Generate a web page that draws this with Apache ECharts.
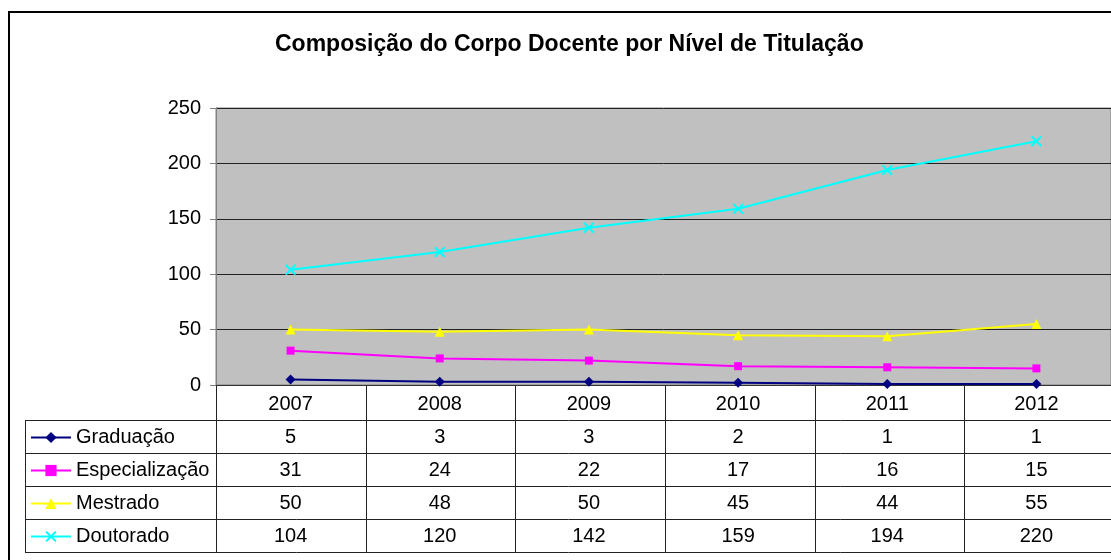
<!DOCTYPE html>
<html>
<head>
<meta charset="utf-8">
<script src="https://cdn.jsdelivr.net/npm/echarts@6/dist/echarts.min.js"></script>
<style>
  html, body { margin: 0; padding: 0; background: #fff; }
  #chart { width: 1111px; height: 560px; }
</style>
</head>
<body>
<div id="chart"></div>
<script>
// dados da tabela
const years = ['2007', '2008', '2009', '2010', '2011', '2012'];
const seriesNames = ['Graduação', 'Especialização', 'Mestrado', 'Doutorado'];
const graduacao = [5, 3, 3, 2, 1, 1];
const especializacao = [31, 24, 22, 17, 16, 15];
const mestrado = [50, 48, 50, 45, 44, 55];
const doutorado = [104, 120, 142, 159, 194, 220];
const yTicks = [0, 50, 100, 150, 200, 250];

const allValues = [graduacao, especializacao, mestrado, doutorado];
const colors = ['#000080', '#FF00FF', '#FFFF00', '#00FFFF'];
const xMark = 'path://M0,1.5L1.5,0L6,4.5L10.5,0L12,1.5L7.5,6L12,10.5L10.5,12L6,7.5L1.5,12L0,10.5L4.5,6Z';
const symbols = ['diamond', 'rect', 'triangle', xMark];
const symbolSizes = [10, 8, 10, 11];

const font = 'Liberation Sans, Arial, sans-serif';
const chart = echarts.init(document.getElementById('chart'));

const gridLeft = 216, gridTop = 108, gridWidth = 898, gridHeight = 277;

chart.setOption({
  animation: false,
  title: {
    text: 'Composição do Corpo Docente por Nível de Titulação',
    left: 275, top: 33, padding: 0,
    textStyle: { fontFamily: font, fontSize: 23, fontWeight: 'bold', color: '#000' }
  },
  legend: {
    orient: 'vertical', left: 30, top: 421, padding: 0,
    itemWidth: 40, itemHeight: 14, itemGap: 0,
    selectedMode: false,
    data: seriesNames,
    textStyle: { fontFamily: font, fontSize: 20, lineHeight: 33, color: '#000' }
  },
  grid: {
    left: gridLeft, top: gridTop, width: gridWidth, height: gridHeight,
    show: true, backgroundColor: '#C0C0C0', borderColor: '#808080', borderWidth: 1
  },
  xAxis: {
    type: 'category', data: years, boundaryGap: true,
    axisLine: { lineStyle: { color: '#333', width: 1 } },
    axisTick: { show: false },
    axisLabel: { fontFamily: font, fontSize: 20, color: '#000', margin: 9 }
  },
  yAxis: {
    type: 'value', min: yTicks[0], max: yTicks[yTicks.length - 1], interval: 50,
    axisLine: { show: true, lineStyle: { color: '#808080' } },
    axisTick: { show: true, length: 6, lineStyle: { color: '#808080' } },
    axisLabel: { fontFamily: font, fontSize: 20, color: '#000', margin: 15 },
    splitLine: { show: true, lineStyle: { color: '#222', width: 1 } }
  },
  series: seriesNames.map((name, i) => ({
    name: name,
    type: 'line',
    data: allValues[i],
    symbol: symbols[i],
    symbolSize: symbolSizes[i],
    showAllSymbol: true,
    lineStyle: { color: colors[i], width: 2 },
    itemStyle: { color: colors[i] }
  }))
});

// tabela de dados abaixo do gráfico
const rowH = 33;
const tableTop = 420;
const tableLeft = 25;
const colW = gridWidth / years.length;
const tableRight = gridLeft + gridWidth;
const axisY = gridTop + gridHeight;
const graphics = [];

graphics.push({
  type: 'rect', shape: { x: 9, y: 12, width: 1200, height: 600 },
  style: { fill: 'none', stroke: '#000', lineWidth: 2 }, silent: true
});

for (let r = 0; r <= seriesNames.length; r++) {
  const y = tableTop + r * rowH + 0.5;
  graphics.push({
    type: 'line', shape: { x1: tableLeft, y1: y, x2: tableRight, y2: y },
    style: { stroke: '#222', lineWidth: 1 }, silent: true
  });
}
const bottom = tableTop + seriesNames.length * rowH + 0.5;
graphics.push({
  type: 'line', shape: { x1: tableLeft + 0.5, y1: tableTop, x2: tableLeft + 0.5, y2: bottom },
  style: { stroke: '#222', lineWidth: 1 }, silent: true
});
for (let c = 0; c <= years.length; c++) {
  const x = Math.round(gridLeft + c * colW) + 0.5;
  graphics.push({
    type: 'line', shape: { x1: x, y1: axisY, x2: x, y2: bottom },
    style: { stroke: '#222', lineWidth: 1 }, silent: true
  });
}
allValues.forEach((vals, r) => {
  vals.forEach((v, c) => {
    const cx = chart.convertToPixel({ xAxisIndex: 0 }, years[c]);
    graphics.push({
      type: 'text', x: cx, y: tableTop + r * rowH + rowH / 2 + 1,
      style: {
        text: String(v), fill: '#000', font: '20px ' + font,
        textAlign: 'center', textVerticalAlign: 'middle'
      },
      silent: true
    });
  });
});

chart.setOption({ graphic: graphics });
</script>
</body>
</html>
